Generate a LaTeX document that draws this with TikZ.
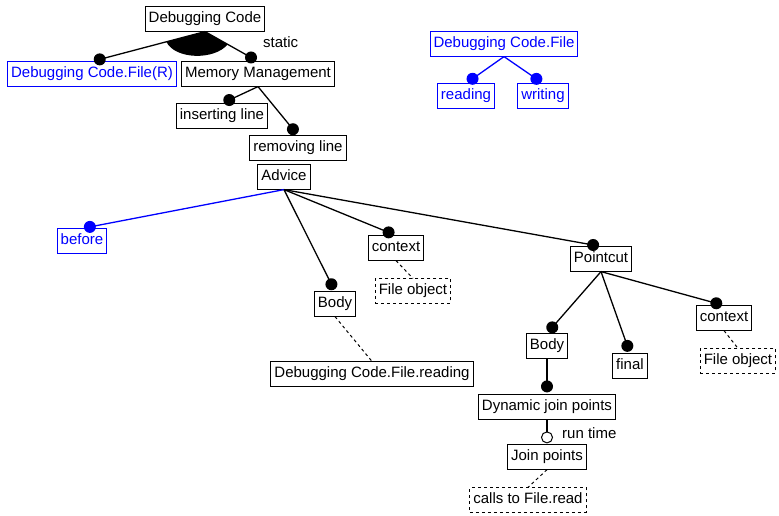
\documentclass[tikz,border=0pt]{standalone}
\usepackage{fontspec}
\setmainfont{Liberation Sans}
\usepackage{tikz}
\usetikzlibrary{positioning, calc}
\definecolor{filecolor}{HTML}{0000FF}

\begin{document}
\begin{tikzpicture}[
    feat/.style={rectangle, draw=#1, text=#1, line width=1pt, inner xsep=3.5pt,
                 inner ysep=5pt, text height=11pt, text depth=3.2pt,
                 font=\fontsize{15}{18}\selectfont},
    feat/.default=black,
    extern/.style={feat, dashed},
    link/.style={draw=#1, line width=1.3pt},
    link/.default=black,
    hint/.style={dashed, line width=1pt},
    mand/.style={circle, fill=#1, inner sep=0pt, minimum size=12pt},
    mand/.default=black,
    opt/.style={circle, draw, fill=white, line width=1pt, inner sep=0pt, minimum size=11pt},
    tag/.style={font=\fontsize{15}{18}\selectfont, inner sep=0pt},
    on grid
]
    \useasboundingbox (0,0) rectangle (779pt,-515pt);

    \node[feat] (dc) at (205pt,-19pt) {Debugging Code};
    \node[feat=filecolor, below left=55pt and 113pt of dc] (dcr) {Debugging Code.File(R)};
    \node[feat, below right=55pt and 53pt of dc] (mm) {Memory Management};
    \node[feat, below left=42pt and 36pt of mm] (ins) {inserting line};
    \node[feat, below right=74pt and 40pt of mm] (rem) {removing line};

    \node[feat] (adv) at (284pt,-177pt) {Advice};
    \node[feat=filecolor, below left=64pt and 202pt of adv] (bef) {before};
    \node[feat, below right=127pt and 51pt of adv] (body) {Body};
    \node[feat, below right=71pt and 112pt of adv] (ctx) {context};
    \node[extern, below right=43pt and 17pt of ctx] (fobj) {File object};
    \node[feat, below right=70pt and 37pt of body] (bread) {Debugging Code.File.reading};
    \node[feat, below right=82pt and 317pt of adv] (pc) {Pointcut};
    \node[feat, below left=87pt and 54pt of pc] (pbody) {Body};
    \node[feat, below right=107pt and 29pt of pc] (fin) {final};
    \node[feat, below right=59pt and 123pt of pc] (pctx) {context};
    \node[extern, below right=43pt and 14pt of pctx] (pfobj) {File object};
    \node[feat, below=61pt of pbody] (djp) {Dynamic join points};
    \node[feat, below=50pt of djp] (jp) {Join points};
    \node[extern, below left=43pt and 19pt of jp] (calls) {calls to File.read};

    \node[feat=filecolor] (dcf) at (504pt,-44pt) {Debugging Code.File};
    \node[feat=filecolor, below left=52pt and 38pt of dcf] (rd) {reading};
    \node[feat=filecolor, below right=52pt and 39pt of dcf] (wr) {writing};

    \draw[link] (dc.south) -- ($(dcr.north)!8pt!(dc.south)$) node[mand] (dcrd) {};
    \draw[link] (dc.south) -- ($(mm.north)!8pt!(dc.south)$) node[mand] (mmd) {};
    \fill ($(dc.south)!40pt!(dcrd)$) .. controls +(9pt,-18pt) and +(-13pt,-16pt)
        .. ($(dc.south)!26pt!(mmd)$) -- (dc.south) -- cycle;
    \node[tag, anchor=west] (stat) at ($(dc.south)+(58pt,-11pt)$) {static};
    \draw[link] (mm.south) -- ($(ins.north)!8pt!(mm.south)$) node[mand] (insd) {};
    \draw[link] (mm.south) -- ($(rem.north)!8pt!(mm.south)$) node[mand] (remd) {};

    \draw[link=filecolor] (adv.south) -- ($(bef.north)!8pt!(adv.south)$) node[mand=filecolor] (befd) {};
    \draw[link] (adv.south) -- ($(body.north)!8pt!(adv.south)$) node[mand] (bodyd) {};
    \draw[link] (adv.south) -- ($(ctx.north)!8pt!(adv.south)$) node[mand] (ctxd) {};
    \draw[link] (adv.south) -- ($(pc.north)!8pt!(adv.south)$) node[mand] (pcd) {};
    \draw[link] (pc.south) -- ($(pbody.north)!8pt!(pc.south)$) node[mand] (pbodyd) {};
    \draw[link] (pc.south) -- ($(fin.north)!8pt!(pc.south)$) node[mand] (find) {};
    \draw[link] (pc.south) -- ($(pctx.north)!8pt!(pc.south)$) node[mand] (pctxd) {};
    \draw[link] (pbody.south) -- ($(djp.north)!8pt!(pbody.south)$) node[mand] (djpd) {};
    \draw[link] (djp.south) -- ($(jp.north)!7pt!(djp.south)$) node[opt] (jpd) {};
    \node[tag, anchor=west] (rt) at ($(jpd)+(15pt,4pt)$) {run time};

    \draw[hint] (ctx.south) -- (fobj.north);
    \draw[hint] (body.south) -- (bread.north);
    \draw[hint] (pctx.south) -- (pfobj.north);
    \draw[hint] (jp.south) -- (calls.north);

    \draw[link=filecolor] (dcf.south) -- ($(rd.north)!8pt!(dcf.south)$) node[mand=filecolor] (rdd) {};
    \draw[link=filecolor] (dcf.south) -- ($(wr.north)!8pt!(dcf.south)$) node[mand=filecolor] (wrd) {};

\end{tikzpicture}
\end{document}
